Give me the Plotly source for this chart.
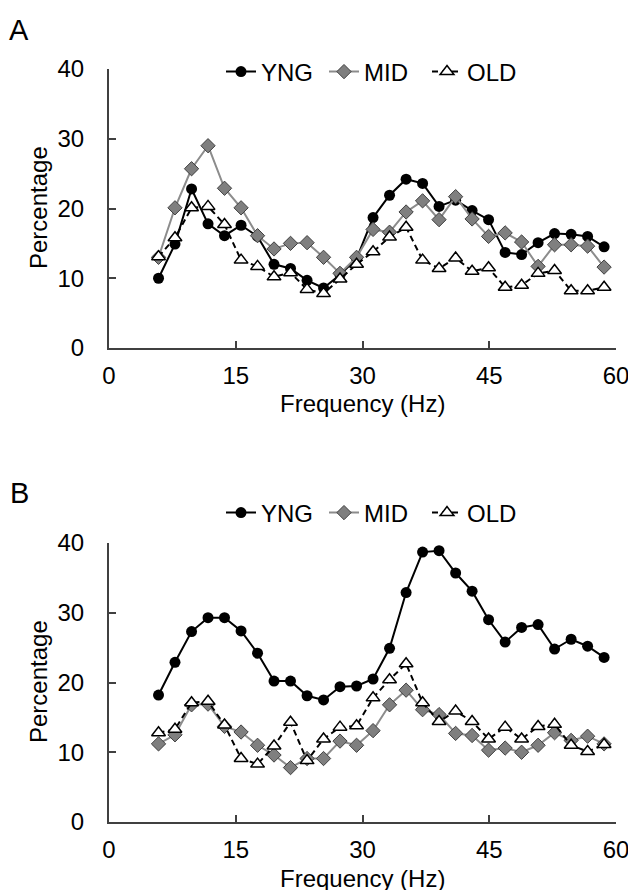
import plotly.graph_objects as go

# ---- data ----
freq = [5.86, 7.81, 9.77, 11.72, 13.67, 15.63, 17.58, 19.53, 21.48, 23.44,
        25.39, 27.34, 29.30, 31.25, 33.20, 35.16, 37.11, 39.06, 41.02, 42.97,
        44.92, 46.88, 48.83, 50.78, 52.73, 54.69, 56.64, 58.59]

a_yng = [10.0, 14.9, 22.8, 17.8, 16.1, 17.6, 16.0, 12.0, 11.4, 9.7,
         8.6, 10.5, 12.8, 18.7, 21.9, 24.2, 23.6, 20.3, 21.2, 19.7,
         18.4, 13.7, 13.4, 15.1, 16.4, 16.3, 16.0, 14.5]
a_mid = [13.0, 20.1, 25.7, 29.0, 22.9, 20.1, 16.1, 14.2, 15.0, 15.1,
         13.0, 10.7, 13.0, 17.0, 16.6, 19.5, 21.1, 18.4, 21.7, 18.5,
         16.0, 16.5, 15.2, 11.7, 14.8, 14.8, 14.6, 11.6]
a_old = [13.1, 15.8, 20.1, 20.3, 17.7, 12.6, 11.7, 10.2, 10.8, 8.4,
         7.8, 9.9, 12.0, 13.8, 15.9, 17.3, 12.6, 11.4, 12.9, 11.0,
         11.5, 8.7, 9.0, 10.7, 11.1, 8.2, 8.2, 8.7]

b_yng = [18.2, 22.9, 27.3, 29.3, 29.3, 27.4, 24.2, 20.2, 20.2, 18.1,
         17.5, 19.4, 19.5, 20.5, 24.9, 32.9, 38.7, 38.9, 35.7, 33.1,
         29.0, 25.8, 27.9, 28.3, 24.8, 26.2, 25.2, 23.6]
b_mid = [11.2, 12.5, 16.8, 16.9, 13.7, 12.9, 11.0, 9.6, 7.8, 9.1,
         9.1, 11.6, 11.0, 13.1, 16.8, 18.9, 16.1, 15.4, 12.7, 12.4,
         10.3, 10.6, 10.0, 11.0, 12.8, 11.7, 12.3, 11.2]
b_old = [12.8, 13.3, 17.1, 17.3, 13.9, 9.1, 8.3, 10.9, 14.3, 8.8,
         11.9, 13.6, 13.8, 17.8, 20.4, 22.7, 17.1, 14.4, 15.9, 14.4,
         11.9, 13.6, 11.9, 13.7, 14.0, 11.0, 10.1, 11.1]

series_names = ["YNG", "MID", "OLD"]
x_ticks = [0, 15, 30, 45, 60]
y_ticks = [0, 10, 20, 30, 40]

# ---- styling ----
W, H = 628, 890
FONT = "Liberation Sans, Arial, sans-serif"
AXC = "#404040"
styles = {
    "YNG": dict(line=dict(color="black", width=2),
                marker=dict(symbol="circle", size=11, color="black")),
    "MID": dict(line=dict(color="#8c8c8c", width=2),
                marker=dict(symbol="diamond", size=11, color="#7f7f7f",
                            line=dict(color="#404040", width=1))),
    "OLD": dict(line=dict(color="black", width=2, dash="6px,4px"),
                marker=dict(symbol="triangle-up", size=12, color="white",
                            line=dict(color="black", width=1.5))),
}

fig = go.Figure()
panels = [("x", "y", "legend", [a_yng, a_mid, a_old]),
          ("x2", "y2", "legend2", [b_yng, b_mid, b_old])]
for xa, ya, lg, vals in panels:
    for name, v in zip(series_names, vals):
        fig.add_trace(go.Scatter(x=freq, y=v, name=name, mode="lines+markers",
                                 xaxis=xa, yaxis=ya, legend=lg,
                                 cliponaxis=False, **styles[name]))

def px_x(p):
    return p / W

def px_y(p):
    return 1 - p / H

xdom = [px_x(109), px_x(616)]
axis_common = dict(showline=True, linecolor=AXC, linewidth=2, ticks="inside",
                   ticklen=7, tickwidth=2, tickcolor=AXC, showgrid=False,
                   zeroline=False, automargin=False, ticklabeloverflow="allow",
                   tickfont=dict(size=24, color="black", family=FONT))

leg_common = dict(orientation="h", xanchor="left", yanchor="middle",
                  font=dict(size=24, color="black", family=FONT),
                  itemwidth=30, entrywidth=58, bgcolor="rgba(0,0,0,0)",
                  tracegroupgap=0)

fig.update_layout(
    width=W, height=H, margin=dict(l=0, r=0, t=0, b=0, autoexpand=False),
    paper_bgcolor="white", plot_bgcolor="white",
    font=dict(family=FONT, color="black"),
    xaxis=dict(domain=xdom, anchor="y", range=[0, 60], tickvals=x_ticks,
               ticklabelstandoff=5, **axis_common),
    yaxis=dict(domain=[px_y(348), px_y(69)], anchor="x", range=[0, 40],
               tickvals=y_ticks, ticklabelstandoff=18, **axis_common),
    xaxis2=dict(domain=xdom, anchor="y2", range=[0, 60], tickvals=x_ticks,
                ticklabelstandoff=5, **axis_common),
    yaxis2=dict(domain=[px_y(822), px_y(543)], anchor="x2", range=[0, 40],
                tickvals=y_ticks, ticklabelstandoff=18, **axis_common),
    legend=dict(x=px_x(221), y=px_y(72), **leg_common),
    legend2=dict(x=px_x(221), y=px_y(513), **leg_common),
    showlegend=True,
)

annots = [
    dict(text="A", x=px_x(19), y=px_y(30), size=29),
    dict(text="B", x=px_x(19), y=px_y(493), size=29),
    dict(text="Frequency (Hz)", x=px_x(362), y=px_y(404), size=24),
    dict(text="Frequency (Hz)", x=px_x(362), y=px_y(878), size=24),
]
for a in annots:
    fig.add_annotation(text=a["text"], x=a["x"], y=a["y"], xref="paper", yref="paper",
                       xanchor="center", yanchor="middle", showarrow=False,
                       font=dict(size=a["size"], color="black", family=FONT))
for yc in (208, 682):
    fig.add_annotation(text="Percentage", x=px_x(38), y=px_y(yc), xref="paper",
                       yref="paper", xanchor="center", yanchor="middle",
                       textangle=-90, showarrow=False,
                       font=dict(size=24, color="black", family=FONT))

fig.write_html("out.html", config={"displayModeBar": False},
               post_script="document.body.style.margin='0';"
                           "document.body.style.overflow='hidden';")
